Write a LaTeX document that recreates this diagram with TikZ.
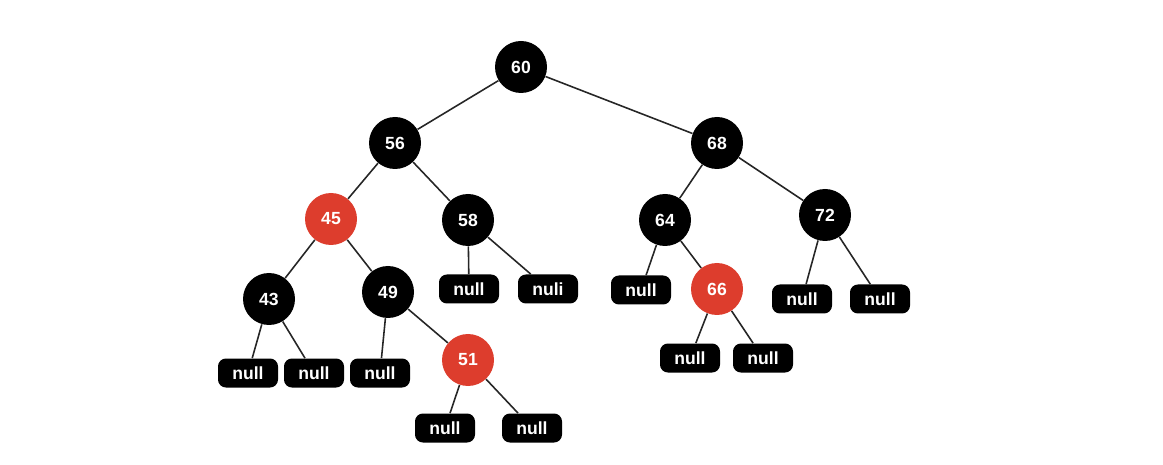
\documentclass[tikz,border=0pt]{standalone}
\usepackage{fontspec}
\setmainfont{Liberation Sans}
\usepackage{tikz}
\usetikzlibrary{shapes,positioning}
\usepackage{xcolor}
\definecolor{rbred}{RGB}{221,61,45}

\begin{document}
\begin{tikzpicture}[
    blacknode/.style={circle, fill=black, text=white, minimum size=1.04cm, inner sep=0pt, font=\fontsize{10}{11}\selectfont\bfseries},
    rednode/.style={blacknode, fill=rbred},
    leaf/.style={rectangle, rounded corners=4.5pt, fill=black, text=white, minimum width=1.2cm, minimum height=0.58cm, inner sep=0pt, font=\fontsize{10}{11}\selectfont\bfseries},
    edge/.style={draw=black!85, line width=0.9pt}
]
\useasboundingbox (0,0) rectangle (23.26,-9.30);

\node[blacknode] (n60) at (10.42,-1.34) {60};
\node[blacknode] (n56) at (7.90,-2.86) {56};
\node[blacknode] (n68) at (14.34,-2.86) {68};
\node[rednode] (n45) at (6.62,-4.38) {45};
\node[blacknode] (n58) at (9.36,-4.40) {58};
\node[blacknode] (n64) at (13.30,-4.40) {64};
\node[blacknode] (n72) at (16.50,-4.30) {72};
\node[blacknode] (n43) at (5.38,-5.98) {43};
\node[blacknode] (n49) at (7.76,-5.84) {49};
\node[rednode] (n66) at (14.34,-5.78) {66};
\node[rednode] (n51) at (9.36,-7.20) {51};

\node[leaf] (l43a) at (4.96,-7.46) {null};
\node[leaf] (l43b) at (6.28,-7.46) {null};
\node[leaf] (l49a) at (7.60,-7.46) {null};
\node[leaf] (l58a) at (9.38,-5.78) {null};
\node[leaf] (l58b) at (10.96,-5.78) {nuli};
\node[leaf] (l51a) at (8.90,-8.56) {null};
\node[leaf] (l51b) at (10.64,-8.56) {null};
\node[leaf] (l64a) at (12.82,-5.80) {null};
\node[leaf] (l66a) at (13.80,-7.16) {null};
\node[leaf] (l66b) at (15.26,-7.16) {null};
\node[leaf] (l72a) at (16.04,-5.98) {null};
\node[leaf] (l72b) at (17.60,-5.98) {null};

\draw[edge] (n60) -- (n56);
\draw[edge] (n60) -- (n68);
\draw[edge] (n56) -- (n45);
\draw[edge] (n56) -- (n58);
\draw[edge] (n68) -- (n64);
\draw[edge] (n68) -- (n72);
\draw[edge] (n45) -- (n43);
\draw[edge] (n45) -- (n49);
\draw[edge] (n49) -- (n51);
\draw[edge] (n64) -- (n66);
\draw[edge] (n43) -- (l43a);
\draw[edge] (n43) -- (l43b);
\draw[edge] (n49) -- (l49a);
\draw[edge] (n58) -- (l58a);
\draw[edge] (n58) -- (l58b);
\draw[edge] (n51) -- (l51a);
\draw[edge] (n51) -- (l51b);
\draw[edge] (n64) -- (l64a);
\draw[edge] (n66) -- (l66a);
\draw[edge] (n66) -- (l66b);
\draw[edge] (n72) -- (l72a);
\draw[edge] (n72) -- (l72b);

\end{tikzpicture}
\end{document}
